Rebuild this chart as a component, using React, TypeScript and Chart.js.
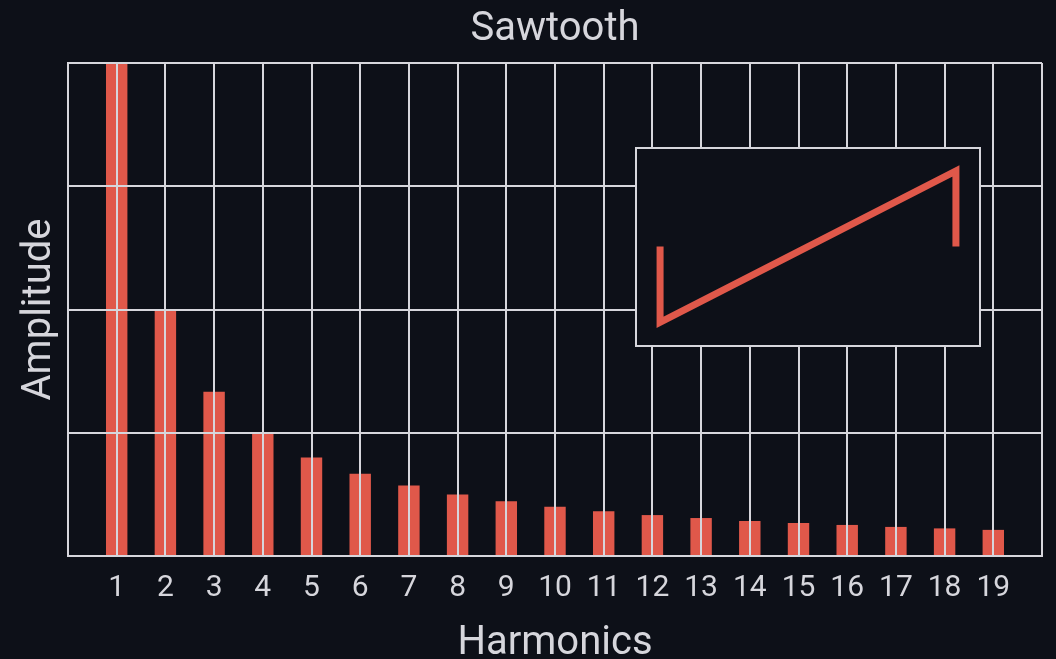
import React, { useEffect, useRef } from "react";
import { Chart, registerables } from "chart.js";

Chart.register(...registerables);

const harmonics = [1, 2, 3, 4, 5, 6, 7, 8, 9, 10, 11, 12, 13, 14, 15, 16, 17, 18, 19];
const amplitudes = [1, 0.5, 0.333, 0.25, 0.2, 0.167, 0.143, 0.125, 0.111, 0.1, 0.091, 0.083, 0.077, 0.071, 0.067, 0.063, 0.059, 0.056, 0.053];
const insetX = [0, 0, 1, 1];
const insetY = [0, -1, 1, 0];

const BG = "#0d1018";
const FG = "#d6d6dc";
const BAR = "#e0584a";
const FONT = "Roboto";

export default function App() {
  const mainRef = useRef<HTMLCanvasElement>(null);
  const insetRef = useRef<HTMLCanvasElement>(null);

  useEffect(() => {
    const main = new Chart(mainRef.current!, {
      type: "bar",
      data: {
        datasets: [
          {
            data: harmonics.map((h, i) => ({ x: h, y: amplitudes[i] })),
            backgroundColor: BAR,
            borderWidth: 0,
            barPercentage: 0.44,
            categoryPercentage: 1,
          },
        ],
      },
      options: {
        animation: false,
        responsive: false,
        devicePixelRatio: 1,
        layout: { padding: { top: 0, left: 0, right: 3, bottom: 0 } },
        plugins: {
          legend: { display: false },
          tooltip: { enabled: false },
          title: {
            display: true,
            text: "Sawtooth",
            fullSize: false,
            color: FG,
            font: { family: FONT, size: 40, weight: "normal", lineHeight: 1 },
            padding: { top: 10, bottom: 13 },
          },
        },
        scales: {
          x: {
            type: "linear",
            min: 0,
            max: 20,
            offset: false,
            afterFit: (s: any) => {
              s.height = 103;
            },
            grid: { color: FG, lineWidth: 2, drawTicks: false, offset: false, z: 1 },
            border: { color: FG, width: 2, z: 1 },
            ticks: {
              stepSize: 1,
              autoSkip: false,
              maxRotation: 0,
              color: FG,
              padding: 14,
              font: { family: FONT, size: 30 },
              callback: (v: any) => (v >= 1 && v <= 19 ? String(v) : ""),
            },
            title: {
              display: true,
              text: "Harmonics",
              color: FG,
              font: { family: FONT, size: 40 },
              padding: { top: 16, bottom: -9 },
            },
          },
          y: {
            min: 0,
            max: 1,
            afterFit: (s: any) => {
              s.width = 68;
            },
            grid: { color: FG, lineWidth: 2, drawTicks: false, z: 1 },
            border: { color: FG, width: 2, z: 1 },
            ticks: { stepSize: 0.25, display: false },
            title: {
              display: true,
              text: "Amplitude",
              color: FG,
              font: { family: FONT, size: 40 },
              padding: { top: 16, bottom: 0 },
            },
          },
        },
      },
    });

    const inset = new Chart(insetRef.current!, {
      type: "line",
      data: {
        datasets: [
          {
            data: insetX.map((x, i) => ({ x, y: insetY[i] })),
            borderColor: BAR,
            borderWidth: 7,
            pointRadius: 0,
            tension: 0,
            borderCapStyle: "butt",
            borderJoinStyle: "miter",
            fill: false,
          },
        ],
      },
      options: {
        animation: false,
        responsive: false,
        devicePixelRatio: 1,
        layout: { padding: 0 },
        plugins: { legend: { display: false }, tooltip: { enabled: false } },
        scales: {
          x: { type: "linear", min: -0.078, max: 1.078, display: false },
          y: { type: "linear", min: -1.3, max: 1.29, display: false },
        },
      },
    });

    return () => {
      main.destroy();
      inset.destroy();
    };
  }, []);

  return (
    <div style={{ position: "fixed", left: 0, top: 0, width: 1056, height: 659, background: BG }}>
      <canvas ref={mainRef} width={1056} height={659} style={{ position: "absolute", left: 0, top: 0 }} />
      <div
        style={{
          position: "absolute",
          left: 635,
          top: 147,
          width: 346,
          height: 200,
          boxSizing: "border-box",
          border: `2px solid ${FG}`,
          background: BG,
        }}
      >
        <canvas ref={insetRef} width={342} height={196} style={{ display: "block" }} />
      </div>
    </div>
  );
}
